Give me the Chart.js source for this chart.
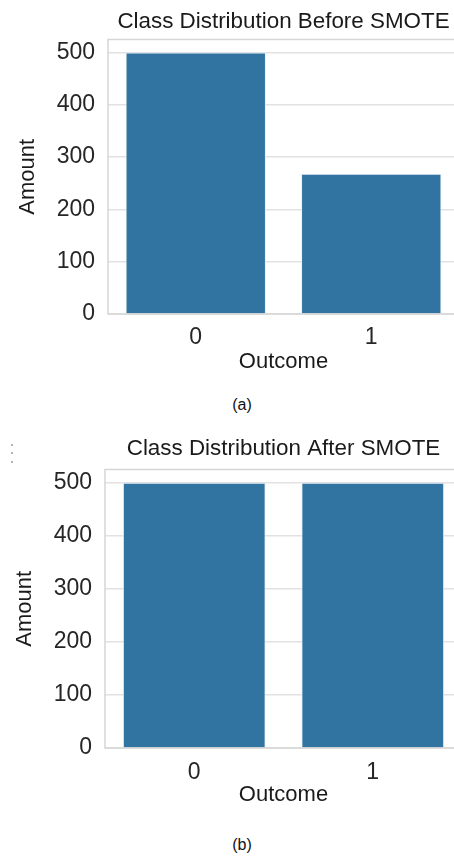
<!DOCTYPE html>
<html>
<head>
<meta charset="utf-8">
<script src="https://cdn.jsdelivr.net/npm/chart.js@4"></script>
<style>
  html, body { margin: 0; padding: 0; background: #fff; }
  body { width: 454px; height: 856px; overflow: hidden; position: relative; font-family: "Liberation Sans", Arial, sans-serif; }
  .box { position: absolute; left: 0; }
  .cap { position: absolute; width: 100px; text-align: center; font-size: 16px; line-height: 20px; color: #111; }
  .dot { position: absolute; width: 2px; height: 2px; background: #9a9a9a; border-radius: 1px; }
</style>
</head>
<body>
<div class="box" style="top:0;width:459px;height:376px"><canvas id="ca" width="459" height="376"></canvas></div>
<div class="cap" style="left:192px;top:395px">(a)</div>
<div class="dot" style="left:11px;top:444px"></div>
<div class="dot" style="left:11px;top:452px"></div>
<div class="dot" style="left:11px;top:461px"></div>
<div class="box" style="top:427px;width:462px;height:381px"><canvas id="cb" width="462" height="381"></canvas></div>
<div class="cap" style="left:192px;top:835px">(b)</div>
<script>
const categories = ['0', '1'];
const countsBefore = [500, 268];
const countsAfter = [500, 500];
const yTicksMax = 525;
const yStep = 100;
const titleBefore = 'Class Distribution Before SMOTE';
const titleAfter = 'Class Distribution After SMOTE';
const xTitle = 'Outcome';
const yTitle = 'Amount';

const FONT = '"Liberation Sans", Arial, sans-serif';
const BAR = '#3274a1';

const frame = {
  id: 'frame',
  beforeDatasetsDraw(chart) {
    const a = chart.chartArea, c = chart.ctx;
    c.save();
    c.strokeStyle = '#d6d6d6';
    c.lineWidth = 1.5;
    c.strokeRect(a.left, a.top, a.right - a.left, a.bottom - a.top);
    c.restore();
  }
};

function makeChart(id, title, values, cfg) {
  return new Chart(document.getElementById(id), {
    type: 'bar',
    data: {
      labels: categories,
      datasets: [{
        data: values,
        backgroundColor: BAR,
        borderColor: 'rgba(230,240,248,0.9)',
        borderWidth: 1,
        categoryPercentage: 1,
        barPercentage: 0.8
      }]
    },
    options: {
      responsive: false,
      animation: false,
      layout: { padding: 0 },
      plugins: {
        legend: { display: false },
        tooltip: { enabled: false },
        title: {
          display: true, text: title, fullSize: false,
          font: { family: FONT, size: 22.4, weight: 'normal' },
          color: '#1a1a1a',
          padding: { top: 8, bottom: cfg.titleBottom }
        }
      },
      scales: {
        x: {
          grid: { display: false, drawTicks: false },
          border: { display: false },
          ticks: { font: { family: FONT, size: 23 }, color: '#262626', padding: cfg.xPad },
          title: { display: true, text: xTitle, font: { family: FONT, size: 22 }, color: '#1a1a1a', padding: { top: 0, bottom: cfg.xTitleBottom } },
          afterFit(s) { s.height = cfg.xHeight; }
        },
        y: {
          min: 0, max: yTicksMax,
          grid: { color: '#e2e2e2', lineWidth: 1.5, drawTicks: false },
          border: { display: false },
          ticks: { stepSize: yStep, includeBounds: false, padding: 13, font: { family: FONT, size: 23 }, color: '#262626' },
          title: { display: true, text: yTitle, font: { family: FONT, size: 22 }, color: '#1a1a1a', padding: { top: cfg.yTitleLeft, bottom: 0 } },
          afterFit(s) { s.width = cfg.yWidth; }
        }
      }
    },
    plugins: [frame]
  });
}

makeChart('ca', titleBefore, countsBefore, { titleBottom: 4.6, xPad: 10, xTitleBottom: 1, xHeight: 62, yTitleLeft: 15, yWidth: 108 });
makeChart('cb', titleAfter, countsAfter, { titleBottom: 7.6, xPad: 11, xTitleBottom: 0, xHeight: 60, yTitleLeft: 12, yWidth: 105 });
</script>
</body>
</html>
